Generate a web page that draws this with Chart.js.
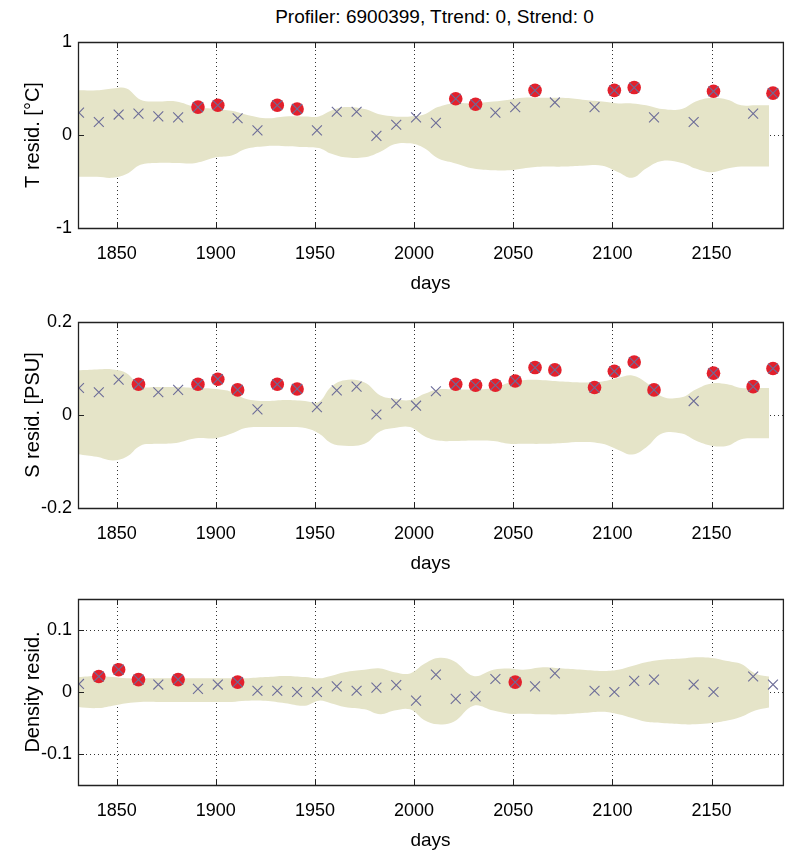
<!DOCTYPE html>
<html>
<head>
<meta charset="utf-8">
<script src="https://cdn.jsdelivr.net/npm/chart.js@4"></script>
<style>
body { margin: 0; background: #fff; width: 791px; height: 851px; overflow: hidden; position: relative; font-family: "Liberation Sans", Arial, sans-serif; }
.panel { position: absolute; left: 0; width: 791px; height: 286px; }
#title { position: absolute; top: 6px; left: 78px; width: 713px; text-align: center; font-size: 19px; color: #000; }
</style>
</head>
<body>
<div id="title">Profiler: 6900399, Ttrend: 0, Strend: 0</div>
<div class="panel" style="top:12px"><canvas id="tChart"></canvas></div>
<div class="panel" style="top:292px"><canvas id="sChart"></canvas></div>
<div class="panel" style="top:569px"><canvas id="dChart"></canvas></div>
<script>
// profile days
const days = [1831, 1841, 1851, 1861, 1871, 1881, 1891, 1901, 1911, 1921, 1931, 1941, 1951, 1961, 1971, 1981,
    1991, 2001, 2011, 2021, 2031, 2041, 2051, 2061, 2071, 2091, 2101, 2111, 2121, 2141, 2151, 2171, 2181];
const xTicks = [1850, 1900, 1950, 2000, 2050, 2100, 2150];

// residuals (flag 1 = red dot)
const tResid = [0.24, 0.14, 0.22, 0.23, 0.20, 0.19, 0.30, 0.32, 0.18, 0.05, 0.32, 0.28, 0.05, 0.25, 0.25, -0.01,
    0.11, 0.19, 0.13, 0.39, 0.33, 0.24, 0.30, 0.48, 0.35, 0.30, 0.48, 0.51, 0.19, 0.14, 0.47, 0.23, 0.45];
const tFlag = [0, 0, 0, 0, 0, 0, 1, 1, 0, 0, 1, 1, 0, 0, 0, 0, 0, 0, 0, 1, 1, 0, 0, 1, 0, 0, 1, 1, 0, 0, 1, 0, 1];

const sResid = [0.058, 0.049, 0.076, 0.066, 0.049, 0.054, 0.066, 0.077, 0.054, 0.012, 0.066, 0.056, 0.017, 0.053, 0.061, 0.001,
    0.025, 0.020, 0.051, 0.066, 0.064, 0.064, 0.073, 0.102, 0.097, 0.059, 0.094, 0.114, 0.054, 0.030, 0.090, 0.061, 0.100];
const sFlag = [0, 0, 0, 1, 0, 0, 1, 1, 1, 0, 1, 1, 0, 0, 0, 0, 0, 0, 0, 1, 1, 1, 1, 1, 1, 1, 1, 1, 1, 0, 1, 1, 1];

const dResid = [0.013, 0.025, 0.036, 0.020, 0.012, 0.020, 0.005, 0.012, 0.016, 0.002, 0.002, 0.000, 0.000, 0.009, 0.002, 0.007,
    0.011, -0.014, 0.028, -0.011, -0.007, 0.021, 0.016, 0.009, 0.030, 0.002, 0.000, 0.018, 0.020, 0.012, 0.000, 0.025, 0.012];
const dFlag = [0, 1, 1, 1, 0, 1, 0, 0, 1, 0, 0, 0, 0, 0, 0, 0, 0, 0, 0, 0, 0, 0, 1, 0, 0, 0, 0, 0, 0, 0, 0, 0, 0];

// shaded envelope
const bandDays = [1830, 1840, 1848, 1855, 1862, 1870, 1880, 1890, 1900, 1908, 1915, 1925, 1935, 1945, 1952, 1958,
    1965, 1975, 1983, 1990, 1998, 2005, 2012, 2020, 2030, 2040, 2048, 2055, 2065, 2075, 2085, 2095,
    2103, 2110, 2117, 2125, 2135, 2142, 2150, 2158, 2165, 2172, 2179];
const tUpper = [0.48, 0.48, 0.50, 0.50, 0.38, 0.36, 0.36, 0.30, 0.28, 0.26, 0.22, 0.18, 0.20, 0.20, 0.20, 0.26,
    0.30, 0.28, 0.22, 0.20, 0.20, 0.22, 0.30, 0.34, 0.34, 0.36, 0.38, 0.40, 0.40, 0.40, 0.38, 0.36,
    0.34, 0.34, 0.32, 0.28, 0.28, 0.36, 0.40, 0.38, 0.32, 0.32, 0.32];
const tLower = [-0.45, -0.45, -0.46, -0.42, -0.32, -0.30, -0.30, -0.30, -0.24, -0.22, -0.15, -0.12, -0.12, -0.13, -0.14, -0.20,
    -0.24, -0.24, -0.18, -0.10, -0.09, -0.14, -0.25, -0.30, -0.36, -0.38, -0.38, -0.36, -0.34, -0.34, -0.33, -0.33,
    -0.40, -0.46, -0.36, -0.28, -0.30, -0.36, -0.40, -0.36, -0.34, -0.34, -0.34];
const sUpper = [0.096, 0.098, 0.098, 0.090, 0.062, 0.060, 0.060, 0.058, 0.056, 0.050, 0.035, 0.030, 0.032, 0.030, 0.028, 0.060,
    0.075, 0.070, 0.042, 0.035, 0.032, 0.045, 0.055, 0.055, 0.055, 0.058, 0.070, 0.075, 0.075, 0.072, 0.070, 0.072,
    0.080, 0.085, 0.070, 0.040, 0.038, 0.055, 0.068, 0.066, 0.058, 0.058, 0.058];
const sLower = [-0.084, -0.090, -0.098, -0.090, -0.066, -0.062, -0.060, -0.050, -0.050, -0.040, -0.028, -0.026, -0.026, -0.028, -0.040, -0.060,
    -0.066, -0.062, -0.035, -0.028, -0.026, -0.045, -0.055, -0.056, -0.055, -0.056, -0.062, -0.062, -0.062, -0.060, -0.058, -0.062,
    -0.075, -0.085, -0.070, -0.040, -0.040, -0.055, -0.066, -0.066, -0.052, -0.050, -0.050];
const dUpper = [0.024, 0.026, 0.024, 0.022, 0.022, 0.022, 0.022, 0.022, 0.022, 0.022, 0.022, 0.024, 0.026, 0.024, 0.022, 0.026,
    0.032, 0.036, 0.038, 0.032, 0.030, 0.045, 0.055, 0.050, 0.026, 0.036, 0.038, 0.036, 0.040, 0.038, 0.036, 0.034,
    0.036, 0.042, 0.048, 0.052, 0.054, 0.056, 0.055, 0.050, 0.045, 0.030, 0.025];
const dLower = [-0.024, -0.026, -0.022, -0.018, -0.016, -0.016, -0.016, -0.016, -0.016, -0.016, -0.014, -0.014, -0.018, -0.022, -0.014, -0.018,
    -0.024, -0.028, -0.036, -0.030, -0.028, -0.045, -0.052, -0.048, -0.022, -0.030, -0.035, -0.035, -0.036, -0.036, -0.034, -0.032,
    -0.036, -0.042, -0.048, -0.050, -0.052, -0.052, -0.050, -0.046, -0.040, -0.030, -0.025];

const tTicks = [-1, 0, 1];
const sTicks = [-0.2, 0, 0.2];
const dTicks = [-0.1, 0, 0.1];

const fontFamily = '"Liberation Sans", Arial, sans-serif';

// matlab style box, dotted grid and inward ticks
const matlabAxes = {
    id: 'matlabAxes',
    beforeDatasetsDraw(chart) {
        const { ctx, chartArea: a, scales: { x, y } } = chart;
        ctx.save();
        ctx.strokeStyle = '#333';
        ctx.lineWidth = 1;
        ctx.setLineDash([1, 3]);
        x.ticks.forEach(t => {
            const px = Math.round(x.getPixelForValue(t.value)) + 0.5;
            ctx.beginPath(); ctx.moveTo(px, a.top); ctx.lineTo(px, a.bottom); ctx.stroke();
        });
        y.ticks.forEach(t => {
            const py = Math.round(y.getPixelForValue(t.value)) + 0.5;
            ctx.beginPath(); ctx.moveTo(a.left, py); ctx.lineTo(a.right, py); ctx.stroke();
        });
        ctx.restore();
    },
    afterDatasetsDraw(chart) {
        const { ctx, chartArea: a, scales: { x, y } } = chart;
        ctx.save();
        ctx.strokeStyle = '#222';
        ctx.lineWidth = 1.3;
        ctx.beginPath();
        ctx.rect(a.left + 0.5, a.top + 0.5, a.right - a.left, a.bottom - a.top);
        ctx.stroke();
        ctx.lineWidth = 1;
        x.ticks.forEach(t => {
            const px = Math.round(x.getPixelForValue(t.value)) + 0.5;
            ctx.beginPath();
            ctx.moveTo(px, a.top); ctx.lineTo(px, a.top + 6);
            ctx.moveTo(px, a.bottom); ctx.lineTo(px, a.bottom - 6);
            ctx.stroke();
        });
        y.ticks.forEach(t => {
            const py = Math.round(y.getPixelForValue(t.value)) + 0.5;
            ctx.beginPath(); ctx.moveTo(a.left, py); ctx.lineTo(a.left + 6, py); ctx.stroke();
        });
        ctx.restore();
    }
};

function makePanel(id, resid, flag, upper, lower, yMin, yMax, yTicks, yLabel) {
    const crosses = days.map((d, i) => ({ x: d, y: resid[i] }));
    const dots = days.map((d, i) => ({ x: d, y: resid[i] })).filter((p, i) => flag[i] === 1);
    new Chart(document.getElementById(id).getContext('2d'), {
        type: 'scatter',
        data: {
            datasets: [
                {
                    type: 'line',
                    data: bandDays.map((d, i) => ({ x: d, y: upper[i] })),
                    fill: '+1',
                    backgroundColor: 'rgb(229, 228, 200)',
                    borderWidth: 0,
                    pointRadius: 0,
                    tension: 0.4,
                    order: 4
                },
                {
                    type: 'line',
                    data: bandDays.map((d, i) => ({ x: d, y: lower[i] })),
                    fill: false,
                    borderWidth: 0,
                    pointRadius: 0,
                    tension: 0.4,
                    order: 5
                },
                {
                    data: dots,
                    pointStyle: 'circle',
                    pointRadius: 6.8,
                    pointBackgroundColor: '#e3202c',
                    pointBorderColor: '#e3202c',
                    pointBorderWidth: 0,
                    order: 2
                },
                {
                    data: crosses,
                    pointStyle: 'crossRot',
                    pointRadius: 7,
                    pointBorderColor: '#6c6c98',
                    pointBorderWidth: 1.1,
                    order: 1
                }
            ]
        },
        options: {
            responsive: true,
            maintainAspectRatio: false,
            animation: false,
            events: [],
            layout: { padding: { top: 30, left: 0, right: 0, bottom: 0 } },
            plugins: { legend: { display: false }, tooltip: { enabled: false } },
            scales: {
                x: {
                    type: 'linear',
                    min: 1830.5,
                    max: 2186,
                    afterBuildTicks: s => { s.ticks = xTicks.map(v => ({ value: v })); },
                    afterFit: s => { s.height = 70; },
                    grid: { display: false, drawTicks: false },
                    border: { display: false },
                    ticks: { color: '#000', font: { family: fontFamily, size: 18 }, padding: 15, maxRotation: 0, autoSkip: false, callback: v => String(v) },
                    title: { display: true, text: 'days', color: '#000', font: { family: fontFamily, size: 19 }, padding: { top: 0, bottom: 3 } }
                },
                y: {
                    min: yMin,
                    max: yMax,
                    afterBuildTicks: s => { s.ticks = yTicks.map(v => ({ value: v })); },
                    afterFit: s => { s.width = 78; },
                    grid: { display: false, drawTicks: false },
                    border: { display: false },
                    ticks: { color: '#000', font: { family: fontFamily, size: 18 }, padding: 6, callback: v => String(v) },
                    title: { display: true, text: yLabel, color: '#000', font: { family: fontFamily, size: 20 }, padding: { top: 21, bottom: 0 } }
                }
            }
        },
        plugins: [matlabAxes]
    });
}

makePanel('tChart', tResid, tFlag, tUpper, tLower, -1, 1, tTicks, 'T resid. [°C]');
makePanel('sChart', sResid, sFlag, sUpper, sLower, -0.2, 0.2, sTicks, 'S resid. [PSU]');
makePanel('dChart', dResid, dFlag, dUpper, dLower, -0.15, 0.15, dTicks, 'Density resid.');
</script>
</body>
</html>
